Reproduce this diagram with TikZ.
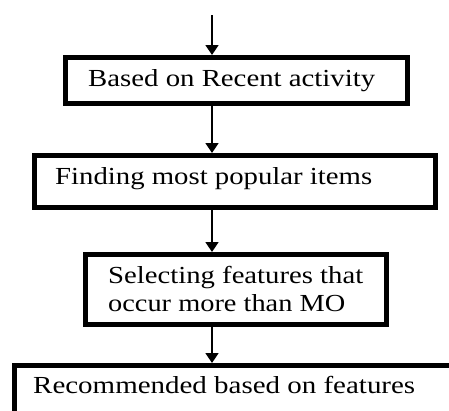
\documentclass[tikz,border=0pt]{standalone}
\usepackage{fontspec}
\setmainfont{Liberation Serif}
\usetikzlibrary{arrows.meta}
% label text stretched to a given width, natural height kept
\newcommand{\fitlabel}[2]{\resizebox{#1}{\height}{#2}}
\begin{document}
\begin{tikzpicture}[x=1pt,y=-1pt,
  stepbox/.style={draw=black,line width=5pt,fill=white,rectangle,inner sep=0pt},
  steptext/.style={anchor=base west,inner sep=0pt,font=\fontsize{24.5}{30}\selectfont},
  flow/.style={line width=1.5pt,-{Triangle[length=10pt,width=13pt]}}]
  \useasboundingbox (0,0) rectangle (449,410);
  \clip (0,0) rectangle (449,410);

  % step boxes
  \node[stepbox,minimum width=342pt,minimum height=46pt] (b1) at (236.5,80.5) {};
  \node[stepbox,minimum width=401pt,minimum height=52pt] (b2) at (235,181.5) {};
  \node[stepbox,minimum width=301pt,minimum height=70pt] (b3) at (236,289.5) {};
  \node[stepbox,minimum width=455pt,minimum height=75pt] (b4) at (242,403) {};

  % labels
  \node[steptext] (t1) at (88,86.5) {\fitlabel{287pt}{Based on Recent activity}};
  \node[steptext] (t2) at (55,184) {\fitlabel{317pt}{Finding most popular items}};
  \node[steptext] (t3a) at (108,283) {\fitlabel{255pt}{Selecting features that}};
  \node[steptext] (t3b) at (108,311) {\fitlabel{237pt}{occur more than MO}};
  \node[steptext] (t4) at (33,393) {\fitlabel{382pt}{Recommended based on features}};

  % connectors
  \coordinate (start) at (212,15);
  \draw[flow] (start) -- (start |- b1.north);
  \draw[flow] (start |- b1.south) -- (start |- b2.north);
  \draw[flow] (start |- b2.south) -- (start |- b3.north);
  \draw[flow] (start |- b3.south) -- (start |- b4.north);
\end{tikzpicture}
\end{document}
